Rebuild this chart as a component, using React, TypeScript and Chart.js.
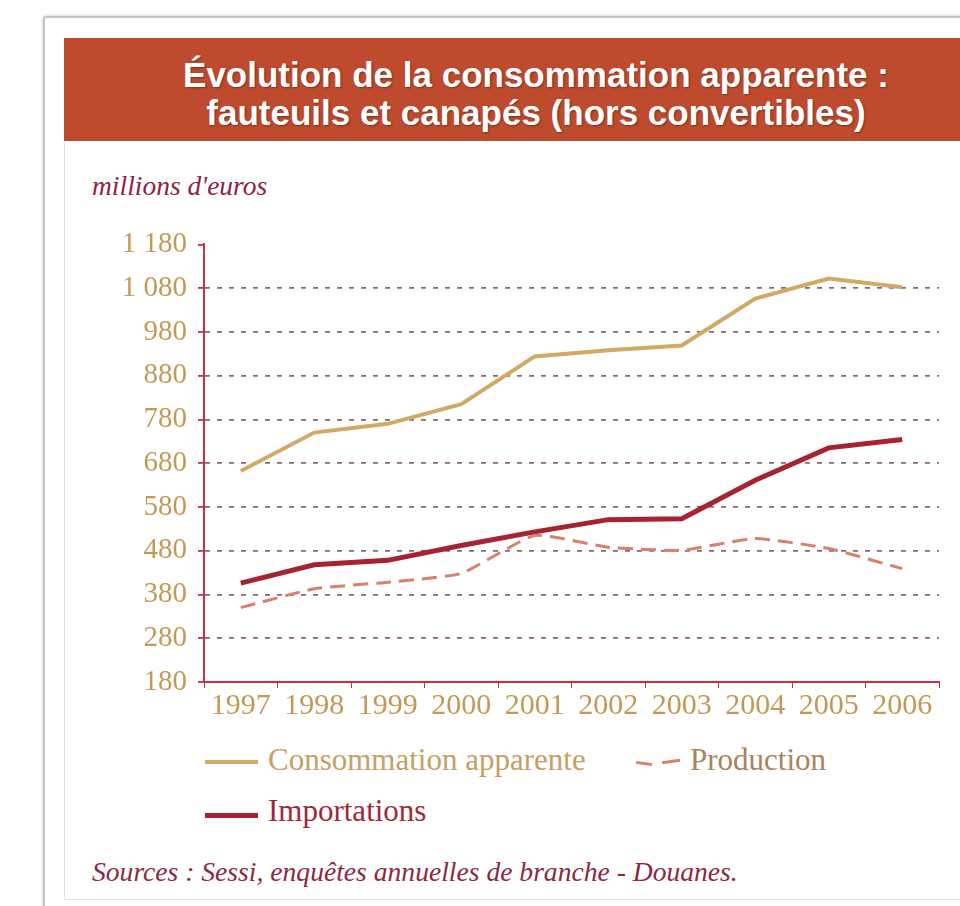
import React, { useEffect, useRef } from "react";
import { Chart, registerables } from "chart.js";

Chart.register(...registerables);

const years = ["1997", "1998", "1999", "2000", "2001", "2002", "2003", "2004", "2005", "2006"];
const consommation = [662, 750, 770, 815, 924, 938, 949, 1056, 1102, 1082];
const importations = [406, 448, 458, 492, 523, 551, 553, 641, 715, 734];
const production = [350, 393, 408, 428, 515, 488, 481, 508, 485, 439];
const yMin = 180;
const yMax = 1180;
const yStep = 100;

const GOLD = "#d4a865";
const DARKRED = "#a82330";
const SALMON = "#d8806c";
const AXIS = "#c8323e";
const GRID = "#8a6577";
const TICKTXT = "#c39a55";

const fmt = (v: number) => {
  const s = String(Math.round(v));
  return s.length > 3 ? s.slice(0, s.length - 3) + " " + s.slice(-3) : s;
};

export default function App() {
  const ref = useRef<HTMLCanvasElement | null>(null);

  useEffect(() => {
    if (!ref.current) return;
    const chart = new Chart(ref.current, {
      type: "line",
      data: {
        labels: years,
        datasets: [
          {
            label: "Production",
            data: production,
            borderColor: SALMON,
            borderWidth: 3,
            borderDash: [15, 8],
            pointRadius: 0,
            tension: 0.15,
            fill: false,
          },
          {
            label: "Importations",
            data: importations,
            borderColor: DARKRED,
            borderWidth: 5,
            pointRadius: 0,
            tension: 0,
            fill: false,
          },
          {
            label: "Consommation apparente",
            data: consommation,
            borderColor: GOLD,
            borderWidth: 4,
            pointRadius: 0,
            tension: 0,
            fill: false,
          },
        ],
      },
      options: {
        animation: false,
        responsive: false,
        maintainAspectRatio: false,
        layout: { padding: { top: 20, right: 21, left: 0, bottom: 0 } },
        plugins: { legend: { display: false }, tooltip: { enabled: false } },
        scales: {
          x: {
            offset: true,
            grid: {
              drawOnChartArea: false,
              drawTicks: true,
              tickLength: 6,
              tickColor: AXIS,
              color: AXIS,
              offset: true,
            },
            border: { display: true, color: AXIS, width: 2 },
            ticks: {
              color: TICKTXT,
              font: { family: "'Liberation Serif', 'Times New Roman', serif", size: 30 },
              padding: 0,
              maxRotation: 0,
              autoSkip: false,
            },
            afterFit: (s: any) => {
              s.height = 54;
            },
          },
          y: {
            min: yMin,
            max: yMax,
            grid: {
              drawTicks: true,
              tickLength: 6,
              tickColor: AXIS,
              tickBorderDash: [],
              lineWidth: 1.8,
              color: (ctx: any) => (ctx.tick && ctx.tick.value === yMax ? "rgba(0,0,0,0)" : GRID),
            },
            border: { display: true, color: AXIS, width: 2, dash: [5, 7] },
            ticks: {
              stepSize: yStep,
              color: TICKTXT,
              font: { family: "'Liberation Serif', 'Times New Roman', serif", size: 29 },
              padding: 11,
              callback: (v: any) => fmt(Number(v)),
            },
            afterFit: (s: any) => {
              s.width = 144;
            },
          },
        },
      },
    });
    return () => chart.destroy();
  }, []);

  const serif = "'Liberation Serif', 'Times New Roman', serif";

  return (
    <div
      style={{
        position: "fixed",
        left: 0,
        top: 0,
        width: 960,
        height: 906,
        overflow: "hidden",
        background: "#ffffff",
      }}
    >
      <div
        style={{
          position: "absolute",
          left: 43,
          top: 16,
          width: 1000,
          height: 950,
          border: "2px solid #c4c4c4",
          borderRadius: 3,
          boxShadow: "0 0 3px rgba(0,0,0,0.25)",
          background: "#fff",
        }}
      />
      <div
        style={{
          position: "absolute",
          left: 64,
          top: 38,
          width: 960,
          height: 860,
          border: "1px solid #e2e2e2",
          background: "#fff",
        }}
      />
      <div
        style={{
          position: "absolute",
          left: 64,
          top: 38,
          width: 944,
          height: 103,
          background: "#bf4b2e",
          color: "#ffffff",
          fontFamily: "'Liberation Sans', Arial, sans-serif",
          fontWeight: "bold",
          fontSize: 35,
          lineHeight: "38px",
          textAlign: "center",
          paddingTop: 18,
          boxSizing: "border-box",
          textShadow: "1px 1px 2px rgba(60,20,10,0.5)",
        }}
      >
        <div>Évolution de la consommation apparente :</div>
        <div>fauteuils et canapés (hors convertibles)</div>
      </div>
      <div
        style={{
          position: "absolute",
          left: 92,
          top: 170,
          fontFamily: serif,
          fontStyle: "italic",
          fontSize: 27.5,
          lineHeight: "32px",
          color: "#8e2345",
          whiteSpace: "nowrap",
        }}
      >
        millions d'euros
      </div>
      <canvas
        ref={ref}
        width={900}
        height={520}
        style={{ position: "absolute", left: 60, top: 216, width: 900, height: 520 }}
      />
      <div style={{ position: "absolute", left: 205, top: 760, width: 53, height: 4, background: GOLD }} />
      <div
        style={{
          position: "absolute",
          left: 268,
          top: 743,
          fontFamily: serif,
          fontSize: 31,
          lineHeight: "34px",
          color: "#c5a064",
          whiteSpace: "nowrap",
        }}
      >
        Consommation apparente
      </div>
      <div style={{ position: "absolute", left: 636, top: 762, width: 16, height: 3, background: SALMON, transform: "rotate(8deg)" }} />
      <div style={{ position: "absolute", left: 662, top: 760, width: 18, height: 3, background: SALMON, transform: "rotate(-8deg)" }} />
      <div
        style={{
          position: "absolute",
          left: 690,
          top: 743,
          fontFamily: serif,
          fontSize: 31,
          lineHeight: "34px",
          color: "#a9825e",
          whiteSpace: "nowrap",
        }}
      >
        Production
      </div>
      <div style={{ position: "absolute", left: 205, top: 813, width: 53, height: 5, background: DARKRED }} />
      <div
        style={{
          position: "absolute",
          left: 268,
          top: 794,
          fontFamily: serif,
          fontSize: 31,
          lineHeight: "34px",
          color: "#a0283a",
          whiteSpace: "nowrap",
        }}
      >
        Importations
      </div>
      <div
        style={{
          position: "absolute",
          left: 92,
          top: 856,
          fontFamily: serif,
          fontStyle: "italic",
          fontSize: 27.6,
          lineHeight: "32px",
          color: "#8e2a40",
          whiteSpace: "nowrap",
        }}
      >
        Sources : Sessi, enquêtes annuelles de branche - Douanes.
      </div>
    </div>
  );
}
